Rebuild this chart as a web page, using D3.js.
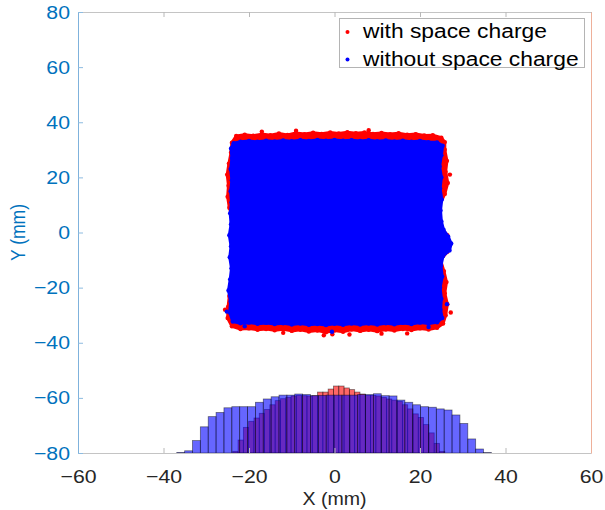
<!DOCTYPE html>
<html>
<head>
<meta charset="utf-8">
<script src="https://cdn.jsdelivr.net/npm/d3@7"></script>
<style>
  body { margin: 0; background: #fff; }
  text { font-family: "Liberation Sans", Arial, Helvetica, sans-serif; }
</style>
</head>
<body>
<svg id="chart"></svg>
<script>
// ---- data (mm) ----
const xTicks = [-60, -40, -20, 0, 20, 40, 60];
const yTicks = [-80, -60, -40, -20, 0, 20, 40, 60, 80];
const seriesNames = ['with space charge', 'without space charge'];

// particle cloud outlines, with space charge (red)
const redEdgeX = [-24.0, -23, -21, -19, -17, -15, -13, -11, -9, -7, -5, -3, -1, 1, 3, 5, 7, 9, 11, 13, 15, 17, 19, 21, 23, 25, 25.8,
  25.8, 26.3, 26.0, 26.5, 25.8, 24.6, 24.4, 24.8, 26.4, 27.0, 26.4, 24.8, 25.6, 26.2, 25.8, 26.4, 26.0, 25.4,
  24, 22, 20, 18, 16, 14, 12, 10, 8, 6, 4, 2, 0, -2, -4, -6, -8, -10, -12, -14, -16, -18, -20, -22, -24,
  -25.0, -24.9, -24.6, -24.2, -23.6, -23.6, -23.6, -23.8, -23.6, -23.8, -24.6, -25.0, -24.8, -25.1, -24.7, -24.2];
const redEdgeY = [32.6, 35.0, 35.5, 35.1, 35.7, 35.3, 35.9, 35.4, 36.1, 35.7, 36.2, 35.8, 36.3, 35.9, 36.4, 36.0, 36.3, 35.8, 36.1, 35.7, 36.0, 35.5, 35.7, 35.2, 35.3, 34.4, 32.8,
  30, 26, 22, 18, 14, 10, 6, 2, -1, -4, -7, -10, -14, -18, -22, -26, -30, -33.0,
  -34.6, -35.2, -34.8, -35.4, -35.0, -35.6, -35.2, -35.8, -35.3, -35.7, -35.2, -36.0, -35.6, -36.2, -35.6, -35.9, -35.3, -35.7, -35.1, -35.5, -35.0, -35.3, -34.8, -35.0, -34.0,
  -31, -27, -23, -19, -15, -11, -7, -3, 1, 5, 9, 13, 17, 21, 25, 29];

// particle cloud outlines, without space charge (blue)
const blueEdgeX = [-24.2, -23.6, -22, -20, -18, -16, -14, -12, -10, -8, -6, -4, -2, 0, 2, 4, 6, 8, 10, 12, 14, 16, 18, 20, 22, 24, 25.3,
  25.0, 24.6, 25.0, 24.7, 25.1, 24.8, 25.0, 25.5, 26.6, 27.3, 26.9, 25.4, 24.9, 25.2, 24.7, 25.0, 24.8, 25.2,
  24, 22, 20, 18, 16, 14, 12, 10, 8, 6, 4, 2, 0, -2, -4, -6, -8, -10, -12, -14, -16, -18, -20, -22, -23.8,
  -24.5, -24.3, -24.8, -24.4, -24.1, -24.5, -24.2, -24.6, -24.2, -24.4, -24.1, -24.3, -24.0, -24.3, -24.0];
const blueEdgeY = [30.5, 32.4, 32.9, 33.2, 32.9, 33.3, 33.0, 33.4, 33.1, 33.5, 33.2, 33.6, 33.3, 33.6, 33.3, 33.5, 33.2, 33.5, 33.1, 33.4, 33.0, 33.3, 32.9, 33.2, 32.8, 32.7, 31.5,
  28, 24, 20, 16, 12, 8, 4, 1, -1.5, -4, -6.5, -8.5, -12, -16, -20, -24, -28, -31,
  -32.6, -33.0, -32.7, -33.2, -32.8, -33.3, -32.9, -33.4, -33.0, -33.4, -33.0, -33.5, -33.1, -33.6, -33.2, -33.5, -33.0, -33.4, -32.9, -33.2, -32.8, -33.1, -32.7, -32.9, -32.3,
  -29, -25, -21, -17, -13, -9, -5, -1, 3, 7, 11, 15, 19, 23, 27];

// isolated particles outside the dense cloud
const redStrayX = [-2.5, -0.5, 3.5, -12, 17, 27.0, 27.2, -25.6, 8, -9, 11, -17];
const redStrayY = [-37.3, -36.9, -37.0, -36.4, -36.6, 21, -29, -28, 37.1, 36.9, -36.7, 36.6];
const blueStrayX = [-0.6, -25.2, 22, -21, 26.3];
const blueStrayY = [-36.0, -28.7, -34.3, -34.0, -26];

// X histograms drawn on the Y = -80 baseline (bar heights in plot units)
const redBinStart = -23.8, redBinWidth = 1.24;
const redHist = [0.6, 4.7, 9.3, 11.5, 12.7, 14.4, 15.8, 17.5, 19.0, 19.7, 20.2, 20.7, 20.9, 20.8, 20.7, 20.8,
  22.1, 22.1, 23.2, 24.3, 24.3, 23.6, 23.0, 22.1, 21.4, 20.9, 20.9, 20.7, 20.2, 19.6,
  19.2, 18.7, 17.5, 16.0, 14.2, 12.9, 10.3, 7.3, 3.5, 0.6];
const blueBinStart = -36.9, blueBinWidth = 1.84;
const blueHist = [0.2, 0.8, 4.5, 9.5, 13.2, 14.7, 16.4, 16.8, 16.8, 16.8, 18.4, 19.6, 20.4, 21.0, 21.0, 21.4,
  21.2, 20.8, 20.9, 21.0, 21.0, 21.0, 21.0, 21.2, 21.2, 21.5, 20.8, 20.7, 19.2, 18.4,
  17.5, 16.8, 16.6, 16.0, 15.6, 13.8, 10.7, 5.1, 1.45, 0.15];

// ---- drawing ----
const W = 605, H = 510;
const SX = 1.12;        // figure text is slightly wide
const histBase = -80;

const svg = d3.select('#chart').attr('width', W).attr('height', H);

const x = d3.scaleLinear().domain([-60, 60]).range([78, 591]);
const y = d3.scaleLinear().domain([-80, 80]).range([453, 12]);

svg.append('defs').append('clipPath').attr('id', 'plotclip')
  .append('rect')
  .attr('x', x(-60)).attr('y', y(80))
  .attr('width', x(60) - x(-60)).attr('height', y(-80) - y(80));

const plot = svg.append('g').attr('clip-path', 'url(#plotclip)');

// histograms: red first, blue drawn over it
function drawHist(heights, start, width, fill) {
  plot.append('g').selectAll('rect')
    .data(heights)
    .join('rect')
    .attr('x', (d, i) => x(start + i * width))
    .attr('width', (d, i) => x(start + (i + 1) * width) - x(start + i * width))
    .attr('y', d => y(histBase + d))
    .attr('height', d => y(histBase) - y(histBase + d))
    .attr('fill', fill)
    .attr('fill-opacity', 0.6)
    .attr('stroke', '#000')
    .attr('stroke-opacity', 0.5)
    .attr('stroke-width', 0.8);
}
drawHist(redHist, redBinStart, redBinWidth, '#ff0000');
drawHist(blueHist, blueBinStart, blueBinWidth, '#0000ff');

// particle clouds
function drawCloud(xs, ys, sxs, sys, color) {
  const pts = xs.map((v, i) => [v, ys[i]]);
  const line = d3.line().x(d => x(d[0])).y(d => y(d[1])).curve(d3.curveLinearClosed);
  const g = plot.append('g');
  g.append('path')
    .attr('d', line(pts))
    .attr('fill', color)
    .attr('stroke', color)
    .attr('stroke-width', 3)
    .attr('stroke-linejoin', 'round');
  const strays = sxs.map((v, i) => [v, sys[i]]);
  g.selectAll('circle')
    .data(pts.concat(strays))
    .join('circle')
    .attr('cx', d => x(d[0]))
    .attr('cy', d => y(d[1]))
    .attr('r', 2.2)
    .attr('fill', color);
}
drawCloud(redEdgeX, redEdgeY, redStrayX, redStrayY, '#ff0000');
drawCloud(blueEdgeX, blueEdgeY, blueStrayX, blueStrayY, '#0000ff');

// axes
const fontTick = 19;

const gBottom = svg.append('g')
  .attr('transform', `translate(0,${y(-80)})`)
  .call(d3.axisBottom(x).tickValues(xTicks).tickSizeInner(-5).tickSizeOuter(0));
gBottom.select('.domain').attr('stroke', '#c4c4c4');
gBottom.selectAll('.tick line').attr('stroke', '#b8b8b8');
gBottom.selectAll('.tick text')
  .attr('y', 30).attr('dy', 0)
  .attr('fill', '#262626')
  .attr('font-size', fontTick)
  .attr('transform', `scale(${SX},1)`);

const gTop = svg.append('g')
  .attr('transform', `translate(0,${y(80)})`)
  .call(d3.axisTop(x).tickValues(xTicks).tickSizeInner(-5).tickSizeOuter(0).tickFormat(''));
gTop.select('.domain').attr('stroke', '#c4c4c4');
gTop.selectAll('.tick line').attr('stroke', '#b8b8b8');

const gLeft = svg.append('g')
  .attr('transform', `translate(${x(-60)},0)`)
  .call(d3.axisLeft(y).tickValues(yTicks).tickSizeInner(-5).tickSizeOuter(0));
gLeft.select('.domain').attr('stroke', '#7fb2dc');
gLeft.selectAll('.tick line').attr('stroke', '#8dbbe0');
gLeft.selectAll('.tick text')
  .attr('x', -8 / SX)
  .attr('fill', '#0072bd')
  .attr('font-size', fontTick)
  .attr('transform', `scale(${SX},1)`);

const gRight = svg.append('g')
  .attr('transform', `translate(${x(60)},0)`)
  .call(d3.axisRight(y).tickValues([]).tickSizeOuter(0));
gRight.select('.domain').attr('stroke', '#eeb09a');

svg.selectAll('.domain').attr('stroke-width', 1);

// axis labels
svg.append('text')
  .attr('transform', `translate(${x(0)},505) scale(${SX},1)`)
  .attr('text-anchor', 'middle')
  .attr('font-size', 17.5)
  .attr('fill', '#262626')
  .text('X (mm)');

svg.append('text')
  .attr('transform', `translate(25,${y(0)}) scale(${SX},1) rotate(-90)`)
  .attr('text-anchor', 'middle')
  .attr('font-size', 17.5)
  .attr('fill', '#0072bd')
  .text('Y (mm)');

// legend
const legend = svg.append('g');
legend.append('rect')
  .attr('x', 339.5).attr('y', 18.5)
  .attr('width', 245).attr('height', 49)
  .attr('fill', '#fff')
  .attr('stroke', '#b4b4b4')
  .attr('stroke-width', 1);
const legColors = ['#ff0000', '#0000ff'];
seriesNames.forEach((name, i) => {
  const cy = 32 + i * 27.5;
  legend.append('circle').attr('cx', 347.5).attr('cy', cy).attr('r', 2).attr('fill', legColors[i]);
  legend.append('text')
    .attr('transform', `translate(363,${cy + 6}) scale(1.17,1)`)
    .attr('font-size', 19.5)
    .attr('fill', '#000')
    .text(name);
});
</script>
</body>
</html>
